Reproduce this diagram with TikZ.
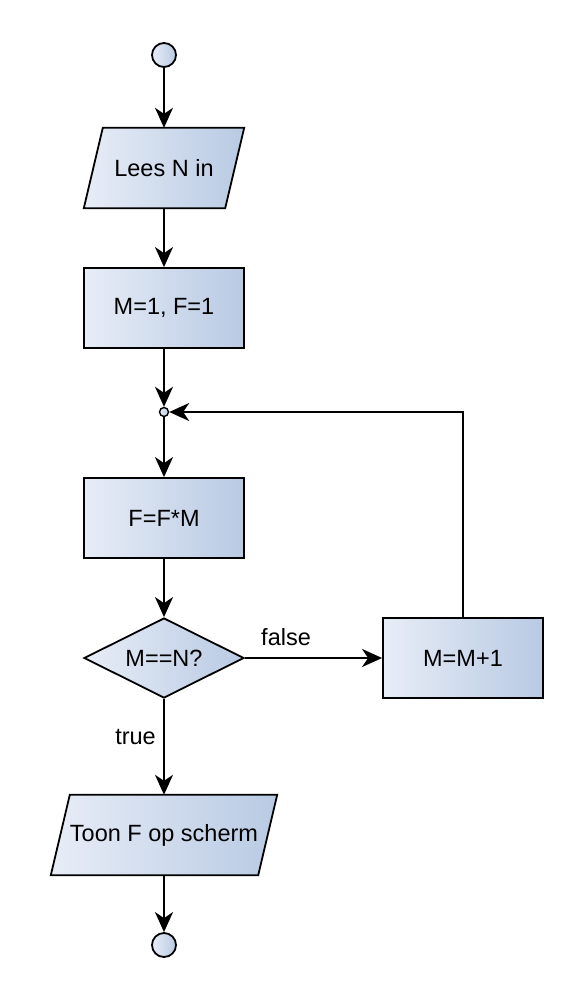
\documentclass[tikz,border=0pt]{standalone}
\usepackage{fontspec}
\setmainfont{Liberation Sans}
\usetikzlibrary{arrows.meta,shapes.geometric,backgrounds}
\definecolor{fillA}{HTML}{E8EDF7}
\definecolor{fillB}{HTML}{B8CAE3}
\begin{document}
\begin{tikzpicture}[x=1pt,y=-1pt,
  every node/.style={font=\fontsize{23.5}{27}\selectfont},
  shade/.style={draw=black,line width=1.8pt,left color=fillA,right color=fillB},
  procbox/.style={shade,rectangle,minimum width=160pt,minimum height=80pt,inner sep=0pt},
  iobox/.style={rectangle,minimum height=80pt,inner sep=0pt},
  decbox/.style={shade,diamond,aspect=2,minimum width=160pt,minimum height=80pt,inner sep=0pt},
  term/.style={shade,circle,minimum size=24pt,inner sep=0pt},
  junc/.style={shade,circle,minimum size=9pt,inner sep=0pt,line width=1.4pt},
  flow/.style={line width=1.8pt,-{Stealth[length=20pt,width=18pt,inset=6pt]}}]
\useasboundingbox (0,0) rectangle (585,996);

\node[term] (start) at (164,55) {};
\node[iobox,minimum width=160pt] (read) at (164,168) {Lees N in};
\node[procbox] (init) at (164,308) {M=1, F=1};
\node[junc] (join) at (164,412) {};
\node[procbox] (mult) at (164,518) {F=F*M};
\node[decbox] (test) at (164,658) {M==N?};
\node[procbox] (inc) at (463,658) {M=M+1};
\node[iobox,minimum width=226pt] (show) at (164,835) {Toon F op scherm};
\node[term] (stop) at (164,945) {};

% slanted input/output boxes drawn behind their texts
\begin{scope}[on background layer]
  \foreach \n in {read,show}
    \path[shade] ([xshift=19pt]\n.north west) -- (\n.north east)
      -- ([xshift=-19pt]\n.south east) -- (\n.south west) -- cycle;
\end{scope}

\draw[flow] (start) -- (read);
\draw[flow] (read) -- (init);
\draw[flow] (init) -- (join);
\draw[flow] (join) -- (mult);
\draw[flow] (mult) -- (test);
\draw[flow] (test) -- node[above=8pt,pos=0.3] {false} (inc);
\draw[flow] (inc) |- (join);
\draw[flow] (test) -- node[left=4pt,pos=0.4] {true} (show);
\draw[flow] (show) -- (stop);
\end{tikzpicture}
\end{document}
